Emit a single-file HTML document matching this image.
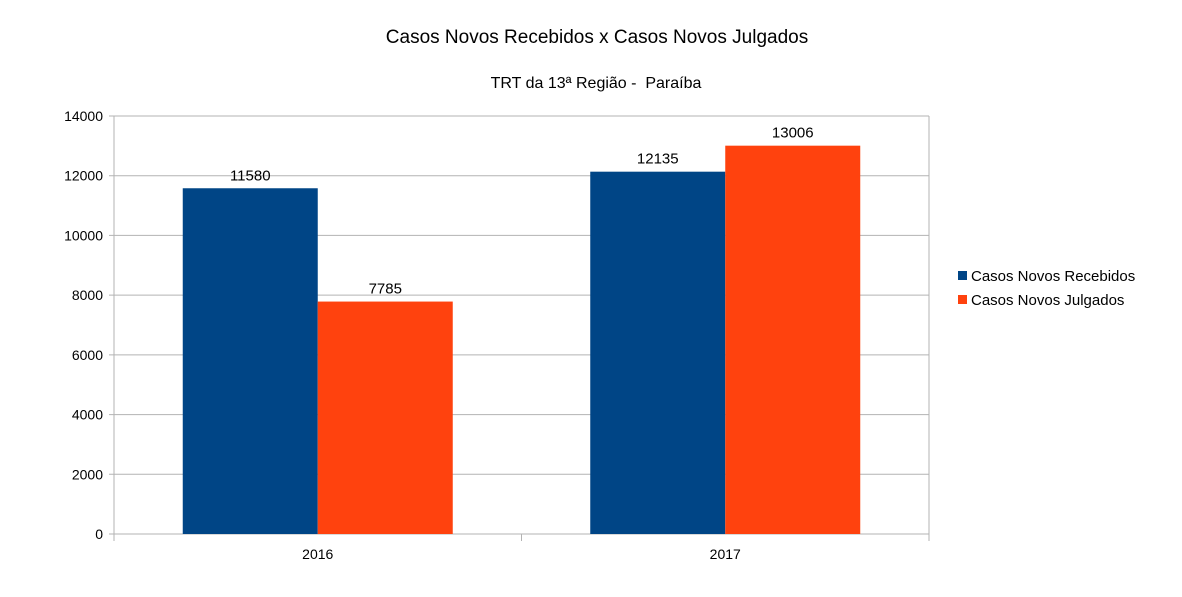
<!DOCTYPE html>
<html><head><meta charset="utf-8"><style>
html,body{margin:0;padding:0;background:#fff;}
svg text{font-family:"Liberation Sans",sans-serif;fill:#000;}
</style></head><body>
<svg width="1182" height="592" viewBox="0 0 1182 592" xmlns="http://www.w3.org/2000/svg">
<rect width="1182" height="592" fill="#fff"/>
<text x="597" y="43" font-size="19" text-anchor="middle">Casos Novos Recebidos x Casos Novos Julgados</text>
<text x="596" y="88" font-size="16" text-anchor="middle" xml:space="preserve">TRT da 13ª Região -  Paraíba</text>
<g id="grid"></g>
<g id="bars"></g>
<g id="axes"></g>
<g>
<rect x="958" y="271" width="9" height="9" fill="#004586"/>
<text x="971" y="281" font-size="15">Casos Novos Recebidos</text>
<rect x="958" y="295" width="9" height="9" fill="#ff420e"/>
<text x="971" y="305" font-size="15">Casos Novos Julgados</text>
</g>
</svg>
<script>
const categories = ["2016", "2017"];
const recebidos = [11580, 12135];
const julgados = [7785, 13006];
const yTicks = [0, 2000, 4000, 6000, 8000, 10000, 12000, 14000];

const NS = "http://www.w3.org/2000/svg";
const X0 = 114, X1 = 929, YTOP = 116, YBOT = 534, YMAX = 14000;
const y = v => YBOT - (v / YMAX) * (YBOT - YTOP);
const catW = (X1 - X0) / categories.length;
const cx = i => X0 + catW * (i + 0.5);
const barW = 135;
function mk(tag, attrs, parent) {
  const e = document.createElementNS(NS, tag);
  for (const k in attrs) e.setAttribute(k, attrs[k]);
  parent.appendChild(e);
  return e;
}
const grid = document.getElementById("grid");
const axes = document.getElementById("axes");
const bars = document.getElementById("bars");
yTicks.forEach(t => {
  const l = mk("line", {x1: X0 - 5, x2: X1, y1: y(t), y2: y(t), stroke: "#b3b3b3", "stroke-width": 1}, grid);
  
  
  const tx = mk("text", {x: X0 - 11, y: y(t) + 5, "font-size": 14, "text-anchor": "end"}, axes);
  tx.textContent = t;
  
  
});
const vx = mk("line", {x1: X0, x2: X0, y1: YTOP, y2: YBOT + 7, stroke: "#b3b3b3"}, axes);


const vr = mk("line", {x1: X1, x2: X1, y1: YTOP, y2: YBOT + 7, stroke: "#b3b3b3"}, grid);


for (let i = 1; i < categories.length; i++) {
  const tk = mk("line", {x1: X0 + catW * i, x2: X0 + catW * i, y1: YBOT, y2: YBOT + 7, stroke: "#b3b3b3"}, axes);
  
  
}
categories.forEach((c, i) => {
  const t = mk("text", {x: cx(i), y: YBOT + 25, "font-size": 14, "text-anchor": "middle"}, axes);
  t.textContent = c;
  
  
  [[recebidos, "#004586", -barW, "recebidos"], [julgados, "#ff420e", 0, "julgados"]].forEach(([arr, col, off, nm]) => {
    const v = arr[i];
    const r = mk("rect", {x: cx(i) + off, y: y(v), width: barW, height: YBOT - y(v), fill: col}, bars);
    
    
    const lb = mk("text", {x: cx(i) + off + barW / 2, y: y(v) - 8, "font-size": 15, "text-anchor": "middle"}, bars);
    lb.textContent = v;
    
    
  });
});
</script>
</body></html>
